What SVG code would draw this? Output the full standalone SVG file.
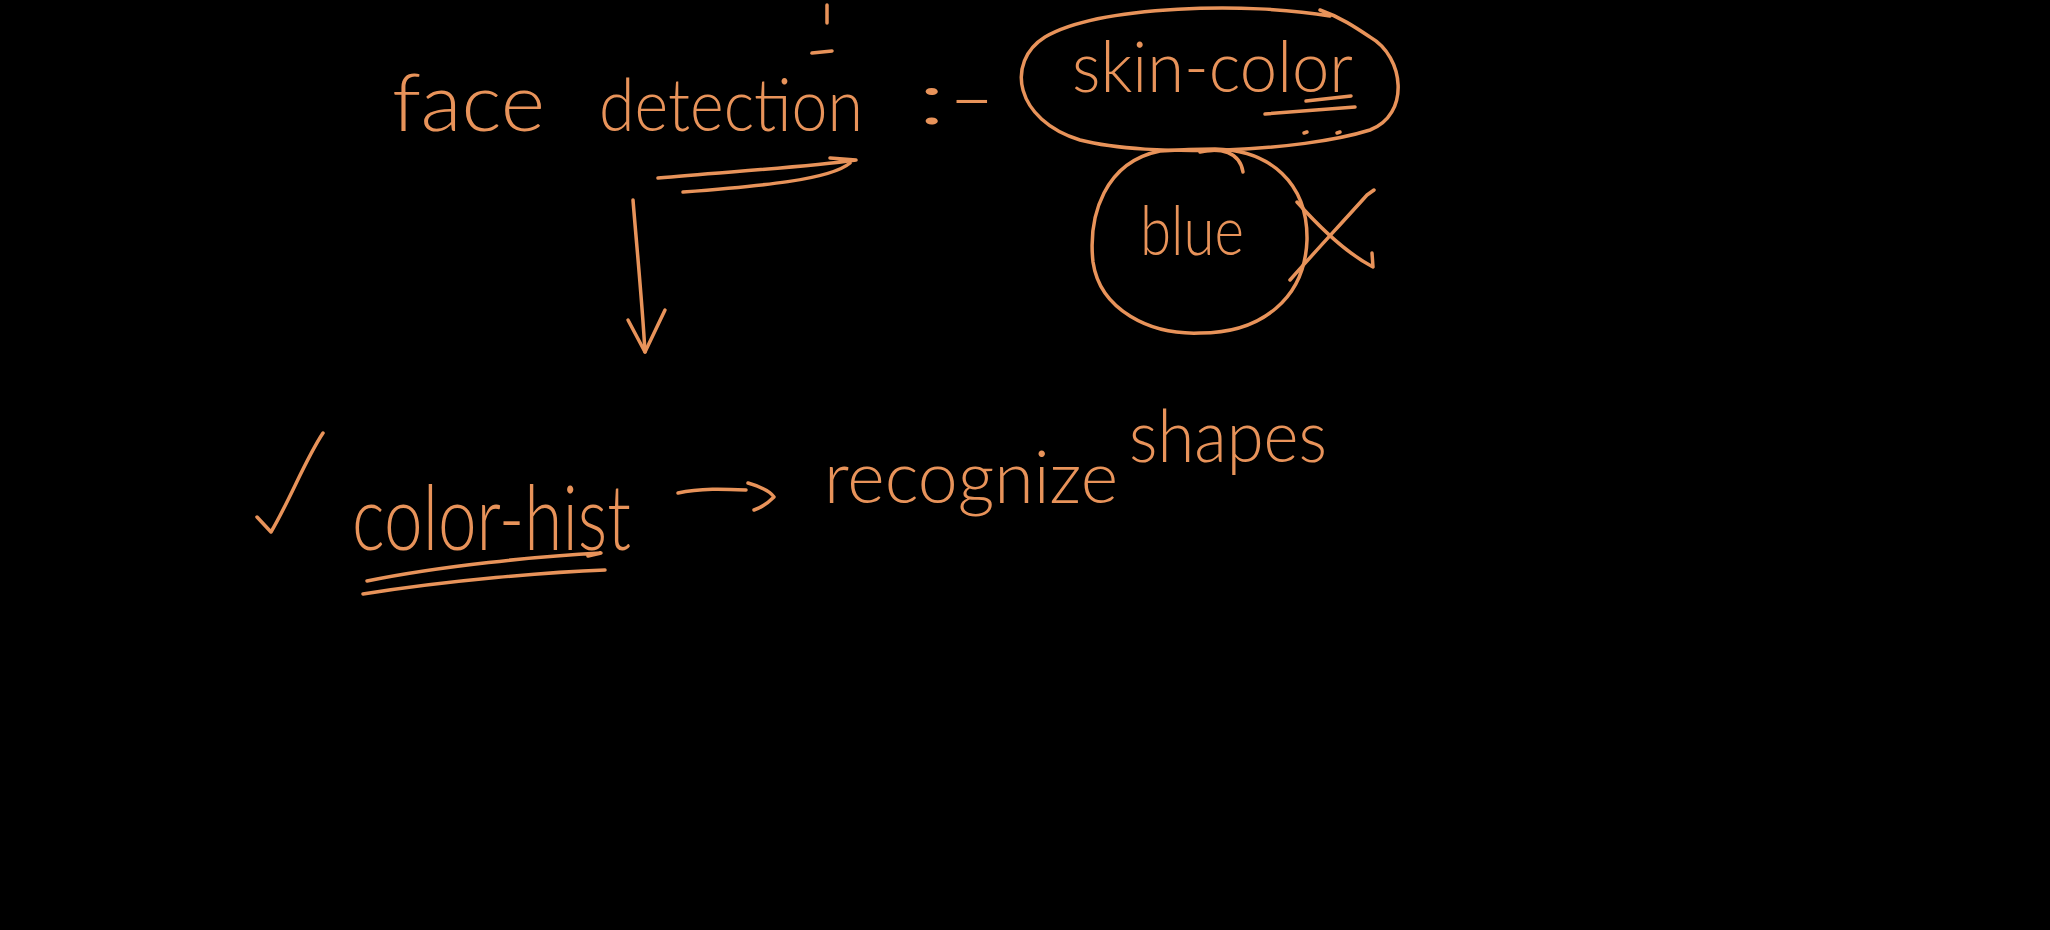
<svg xmlns="http://www.w3.org/2000/svg" width="2050" height="930" viewBox="0 0 2050 930">
<style>
.ink{fill:none;stroke:#e8935a;stroke-width:3.5;stroke-linecap:round;stroke-linejoin:round}
.hw{fill:#e8935a;font-family:Lato,"Liberation Sans",sans-serif;font-weight:300}
</style>
<rect x="0" y="0" width="2050" height="930" fill="#000"/>
<g id="node-face-detection">
<text class="hw" x="392" y="131" font-size="80" textLength="153" lengthAdjust="spacingAndGlyphs">face</text>
<text class="hw" x="599" y="131" font-size="72" textLength="264" lengthAdjust="spacingAndGlyphs">detection</text>
<text class="hw" x="916" y="124" font-size="74" textLength="80" lengthAdjust="spacingAndGlyphs">:-</text>
<path class="ink" d="M827,5 L827,23"/>
<path class="ink" d="M812,53 L832,51"/>
<path class="ink" d="M658,178 C720,172 800,168 856,160 L830,158"/>
<path class="ink" d="M683,192 C760,186 830,180 850,163"/>
</g>
<g id="node-skin-color">
<path class="ink" d="M1330,16 C1250,2 1100,5 1045,37 C1005,62 1015,120 1080,140 C1150,158 1300,152 1370,130 C1410,115 1405,57 1370,37 C1355,27 1340,17 1320,10"/>
<text class="hw" x="1072" y="92" font-size="70" textLength="281" lengthAdjust="spacingAndGlyphs">skin-color</text>
<path class="ink" d="M1306,101 L1351,96"/>
<path class="ink" d="M1265,114 C1300,111 1330,109 1355,107"/>
<path class="ink" d="M1304,133 L1307,132 M1337,133 L1340,132"/>
</g>
<g id="node-blue">
<path class="ink" d="M1160,151 C1105,162 1088,215 1093,262 C1100,310 1150,335 1200,333 C1262,333 1305,298 1307,240 C1308,183 1270,150 1215,149 C1195,149 1175,150 1160,151"/>
<path class="ink" d="M1200,152 C1220,147 1240,152 1243,172"/>
<text class="hw" x="1140" y="255" font-size="68" textLength="104" lengthAdjust="spacingAndGlyphs">blue</text>
<path class="ink" d="M1297,202 C1322,230 1350,255 1373,267 L1372,253"/>
<path class="ink" d="M1374,190 L1367,195 C1340,225 1312,255 1290,280"/>
</g>
<g id="node-color-hist">
<path class="ink" d="M257,517 L271,532 C290,500 305,460 323,433"/>
<text class="hw" x="352" y="550" font-size="90" textLength="279" lengthAdjust="spacingAndGlyphs">color-hist</text>
<path class="ink" d="M367,581 C440,566 540,556 601,553 L588,556"/>
<path class="ink" d="M363,594 C450,580 550,572 605,570"/>
</g>
<g id="node-recognize-shapes">
<text class="hw" x="824" y="503" font-size="72" textLength="294" lengthAdjust="spacingAndGlyphs">recognize</text>
<text class="hw" x="1129" y="462" font-size="72" textLength="198" lengthAdjust="spacingAndGlyphs">shapes</text>
</g>
<g id="connectors">
<path class="ink" d="M633,200 C637,250 642,300 645,352"/>
<path class="ink" d="M628,320 L645,352 L665,310"/>
<path class="ink" d="M678,493 C700,488 725,489 746,490"/>
<path class="ink" d="M748,483 C765,488 772,494 774,497 C768,503 760,508 754,510"/>
</g>
</svg>
